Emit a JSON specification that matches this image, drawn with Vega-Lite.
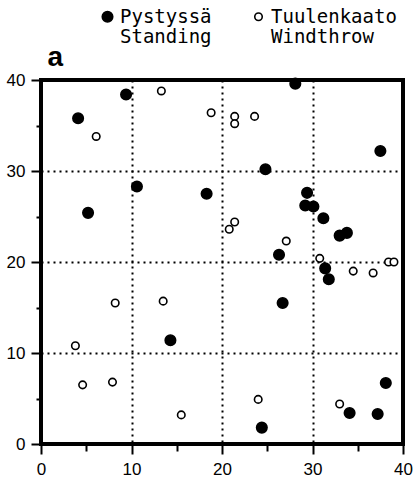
{
  "$schema": "https://vega.github.io/schema/vega-lite/v6.json",
  "width": 362,
  "height": 364,
  "autosize": {"type": "none"},
  "padding": {"left": 41, "top": 80, "right": 12, "bottom": 38},
  "background": "white",
  "data": {
    "values": [
      {"x": 4.1, "y": 35.8, "fi": "Pystyssä", "en": "Standing"},
      {"x": 9.4, "y": 38.4, "fi": "Pystyssä", "en": "Standing"},
      {"x": 10.6, "y": 28.3, "fi": "Pystyssä", "en": "Standing"},
      {"x": 5.2, "y": 25.4, "fi": "Pystyssä", "en": "Standing"},
      {"x": 18.3, "y": 27.5, "fi": "Pystyssä", "en": "Standing"},
      {"x": 28.1, "y": 39.6, "fi": "Pystyssä", "en": "Standing"},
      {"x": 37.5, "y": 32.2, "fi": "Pystyssä", "en": "Standing"},
      {"x": 24.8, "y": 30.2, "fi": "Pystyssä", "en": "Standing"},
      {"x": 29.4, "y": 27.6, "fi": "Pystyssä", "en": "Standing"},
      {"x": 29.2, "y": 26.2, "fi": "Pystyssä", "en": "Standing"},
      {"x": 30.1, "y": 26.1, "fi": "Pystyssä", "en": "Standing"},
      {"x": 31.2, "y": 24.8, "fi": "Pystyssä", "en": "Standing"},
      {"x": 33.0, "y": 22.9, "fi": "Pystyssä", "en": "Standing"},
      {"x": 33.8, "y": 23.2, "fi": "Pystyssä", "en": "Standing"},
      {"x": 26.3, "y": 20.8, "fi": "Pystyssä", "en": "Standing"},
      {"x": 31.4, "y": 19.3, "fi": "Pystyssä", "en": "Standing"},
      {"x": 31.8, "y": 18.1, "fi": "Pystyssä", "en": "Standing"},
      {"x": 26.7, "y": 15.5, "fi": "Pystyssä", "en": "Standing"},
      {"x": 14.3, "y": 11.4, "fi": "Pystyssä", "en": "Standing"},
      {"x": 38.1, "y": 6.7, "fi": "Pystyssä", "en": "Standing"},
      {"x": 34.1, "y": 3.4, "fi": "Pystyssä", "en": "Standing"},
      {"x": 37.2, "y": 3.3, "fi": "Pystyssä", "en": "Standing"},
      {"x": 24.4, "y": 1.8, "fi": "Pystyssä", "en": "Standing"},
      {"x": 13.3, "y": 38.8, "fi": "Tuulenkaato", "en": "Windthrow"},
      {"x": 6.1, "y": 33.8, "fi": "Tuulenkaato", "en": "Windthrow"},
      {"x": 18.8, "y": 36.4, "fi": "Tuulenkaato", "en": "Windthrow"},
      {"x": 21.4, "y": 36.0, "fi": "Tuulenkaato", "en": "Windthrow"},
      {"x": 21.4, "y": 35.2, "fi": "Tuulenkaato", "en": "Windthrow"},
      {"x": 23.6, "y": 36.0, "fi": "Tuulenkaato", "en": "Windthrow"},
      {"x": 21.4, "y": 24.4, "fi": "Tuulenkaato", "en": "Windthrow"},
      {"x": 20.8, "y": 23.6, "fi": "Tuulenkaato", "en": "Windthrow"},
      {"x": 27.1, "y": 22.3, "fi": "Tuulenkaato", "en": "Windthrow"},
      {"x": 30.8, "y": 20.4, "fi": "Tuulenkaato", "en": "Windthrow"},
      {"x": 38.4, "y": 20.0, "fi": "Tuulenkaato", "en": "Windthrow"},
      {"x": 39.0, "y": 20.0, "fi": "Tuulenkaato", "en": "Windthrow"},
      {"x": 34.5, "y": 19.0, "fi": "Tuulenkaato", "en": "Windthrow"},
      {"x": 36.7, "y": 18.8, "fi": "Tuulenkaato", "en": "Windthrow"},
      {"x": 24.0, "y": 4.9, "fi": "Tuulenkaato", "en": "Windthrow"},
      {"x": 33.0, "y": 4.4, "fi": "Tuulenkaato", "en": "Windthrow"},
      {"x": 8.2, "y": 15.5, "fi": "Tuulenkaato", "en": "Windthrow"},
      {"x": 13.5, "y": 15.7, "fi": "Tuulenkaato", "en": "Windthrow"},
      {"x": 3.8, "y": 10.8, "fi": "Tuulenkaato", "en": "Windthrow"},
      {"x": 4.6, "y": 6.5, "fi": "Tuulenkaato", "en": "Windthrow"},
      {"x": 7.9, "y": 6.8, "fi": "Tuulenkaato", "en": "Windthrow"},
      {"x": 15.5, "y": 3.2, "fi": "Tuulenkaato", "en": "Windthrow"}
    ]
  },
  "mark": {"type": "point", "filled": true, "stroke": "black", "strokeWidth": 1.6, "opacity": 1},
  "encoding": {
    "x": {
      "field": "x",
      "type": "quantitative",
      "scale": {"domain": [0, 40], "nice": false, "zero": false},
      "axis": {
        "title": null,
        "values": [0, 5, 10, 15, 20, 25, 30, 35, 40],
        "domain": false,
        "tickColor": "black",
        "tickWidth": 2,
        "tickSize": {"condition": {"test": "datum.value % 10 === 0", "value": 10}, "value": 7},
        "labelExpr": "datum.value % 10 === 0 ? datum.label : ''",
        "labelFont": "Liberation Sans",
        "labelFontSize": 17,
        "labelColor": "black",
        "labelPadding": 7,
        "labelFlush": false,
        "labelOverlap": false,
        "grid": true,
        "gridColor": "black",
        "gridDash": [2, 4],
        "gridWidth": 2,
        "gridOpacity": {"condition": {"test": "datum.value % 10 === 0 && datum.value > 0 && datum.value < 40", "value": 1}, "value": 0}
      }
    },
    "y": {
      "field": "y",
      "type": "quantitative",
      "scale": {"domain": [0, 40], "nice": false, "zero": false},
      "axis": {
        "title": "a",
        "titleAngle": 0,
        "titleFont": "Liberation Sans",
        "titleFontSize": 28,
        "titleFontWeight": "bold",
        "titleColor": "black",
        "titleAlign": "left",
        "titleBaseline": "alphabetic",
        "titleX": 6,
        "titleY": -15,
        "values": [0, 5, 10, 15, 20, 25, 30, 35, 40],
        "domain": false,
        "tickColor": "black",
        "tickWidth": 2,
        "tickSize": {"condition": {"test": "datum.value % 10 === 0", "value": 10}, "value": 5},
        "labelExpr": "datum.value % 10 === 0 ? datum.label : ''",
        "labelFont": "Liberation Sans",
        "labelFontSize": 17,
        "labelColor": "black",
        "labelPadding": 6,
        "labelFlush": false,
        "labelOverlap": false,
        "grid": true,
        "gridColor": "black",
        "gridDash": [2, 4],
        "gridWidth": 2,
        "gridOpacity": {"condition": {"test": "datum.value % 10 === 0 && datum.value > 0 && datum.value < 40", "value": 1}, "value": 0}
      }
    },
    "fill": {
      "field": "fi",
      "type": "nominal",
      "scale": {"domain": ["Pystyssä", "Tuulenkaato"], "range": ["black", "white"]},
      "legend": {
        "orient": "none",
        "legendX": 57,
        "legendY": -73,
        "padding": 0,
        "direction": "horizontal",
        "title": null,
        "labelFont": "DejaVu Sans Mono",
        "labelFontSize": 19,
        "labelColor": "black",
        "labelOffset": 3,
        "labelBaseline": "middle",
        "labelLimit": 200,
        "columnPadding": 37,
        "symbolStrokeColor": "black",
        "symbolStrokeWidth": 1.6
      }
    },
    "size": {
      "field": "fi",
      "type": "nominal",
      "scale": {"domain": ["Pystyssä", "Tuulenkaato"], "range": [110, 56]}
    },
    "shape": {
      "field": "en",
      "type": "nominal",
      "scale": {"domain": ["Standing", "Windthrow"], "range": ["circle", "circle"]},
      "legend": {
        "orient": "none",
        "legendX": 57,
        "legendY": -53,
        "padding": 0,
        "direction": "horizontal",
        "title": null,
        "labelFont": "DejaVu Sans Mono",
        "labelFontSize": 19,
        "labelColor": "black",
        "labelOffset": 3,
        "labelBaseline": "middle",
        "labelLimit": 200,
        "columnPadding": 37,
        "symbolSize": 110,
        "symbolOpacity": 0
      }
    }
  },
  "config": {
    "view": {"stroke": "black", "strokeWidth": 4}
  }
}
